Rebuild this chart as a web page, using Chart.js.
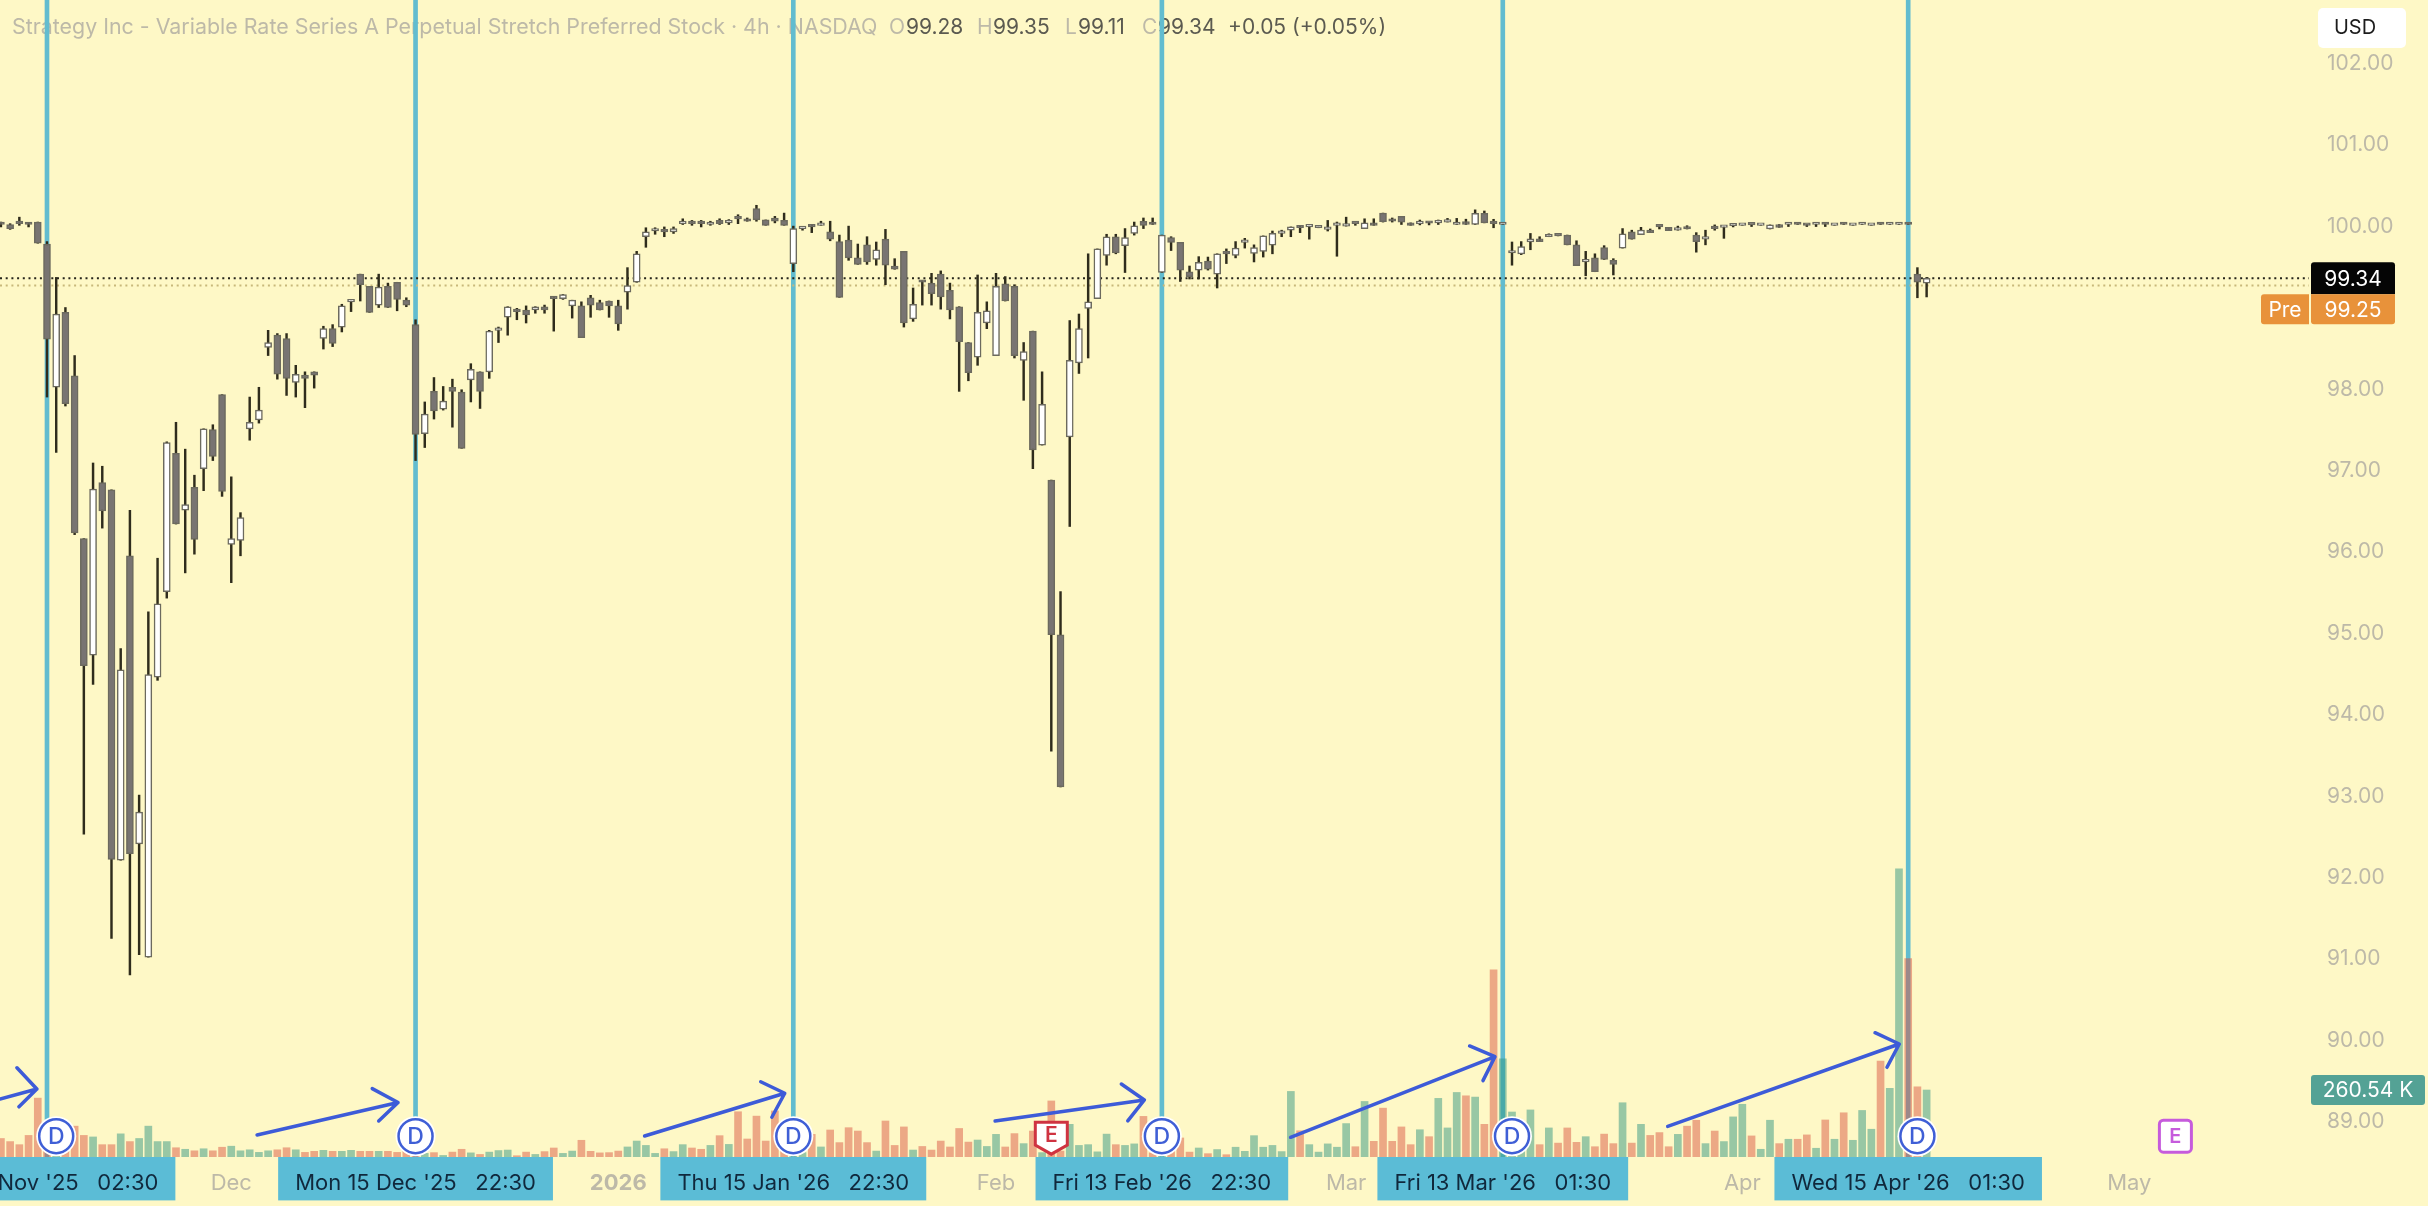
<!DOCTYPE html>
<html>
<head>
<meta charset="utf-8">
<title>Strategy Inc - 4h</title>
<script src="https://cdn.jsdelivr.net/npm/chart.js@4"></script>
<style>
  html, body { margin: 0; background: #fef8c6; overflow: hidden; }
  canvas { display: block; }
</style>
</head>
<body>
<canvas id="chart" width="2428" height="1206"></canvas>
<script>
// one entry per 4h bar, x position is the index in these arrays
const opens = [
  100.02,100.00,100.03,100.01,100.03,99.76,98.00,98.92,98.14,96.14,
  94.71,96.83,96.74,92.19,95.93,92.39,91.00,94.44,95.49,97.19,
  96.49,96.77,97.00,97.48,97.91,96.07,96.12,97.49,97.60,98.49,
  98.64,98.60,98.06,98.15,98.19,98.60,98.72,98.74,99.05,99.39,
  99.24,99.01,99.24,99.29,99.07,98.77,97.43,97.95,97.73,98.00,
  97.94,98.09,98.19,98.19,98.70,98.86,98.96,98.95,98.95,98.99,
  99.10,99.09,99.00,99.00,99.10,99.04,99.06,99.00,99.17,99.29,
  99.85,99.92,99.94,99.91,100.01,100.02,100.02,100.00,100.05,100.02,
  100.08,100.05,100.195,100.056,100.08,100.05,99.52,99.95,99.99,99.99,
  99.91,99.79,99.81,99.59,99.75,99.57,99.82,99.49,99.67,98.84,
  99.30,99.28,99.39,99.19,98.99,98.55,98.37,98.79,98.39,99.27,
  99.24,98.33,98.69,97.29,96.86,94.96,97.39,98.30,98.97,99.09,
  99.62,99.85,99.74,99.89,100.04,100.01,99.41,99.84,99.78,99.42,
  99.44,99.55,99.39,99.65,99.62,99.78,99.645,99.67,99.745,99.89,
  99.93,99.97,99.97,99.96,99.94,99.99,99.98,100.02,99.95,100.02,
  100.14,100.05,100.10,100.02,100.01,100.03,100.02,100.03,100.00,100.035,
  100.00,100.137,100.02,100.00,99.65,99.64,99.785,99.825,99.85,99.87,
  99.87,99.75,99.54,99.59,99.715,99.56,99.71,99.91,99.875,99.93,
  99.985,99.965,99.93,99.96,99.87,99.82,99.97,99.965,99.985,99.99,
  100.005,99.99,99.945,100.00,100.00,100.01,100.00,100.00,100.01,99.99,
  100.01,99.99,100.00,99.99,100.01,100.00,100.00,100.01,99.39,99.28
];
const highs = [
  100.03,100.01,100.09,100.02,100.03,99.79,99.35,98.98,98.39,96.14,
  97.07,97.03,96.74,94.79,96.49,92.99,95.24,95.90,97.33,97.57,
  97.24,96.92,97.49,97.54,97.91,96.90,96.46,97.88,98.00,98.70,
  98.66,98.66,98.27,98.19,98.19,98.75,98.77,99.02,99.07,99.39,
  99.24,99.39,99.28,99.29,99.10,98.83,97.82,98.12,98.01,98.10,
  97.97,98.29,98.19,98.70,98.74,98.99,98.97,99.00,98.99,99.01,
  99.11,99.14,99.07,99.05,99.13,99.07,99.06,99.07,99.47,99.67,
  99.96,99.96,99.97,99.97,100.07,100.05,100.05,100.04,100.07,100.06,
  100.12,100.08,100.236,100.056,100.10,100.14,99.98,99.97,99.99,100.04,
  100.04,99.87,99.98,99.76,99.85,99.785,99.94,99.58,99.67,99.22,
  99.31,99.40,99.43,99.28,98.99,98.55,99.38,99.05,99.40,99.36,
  99.26,98.55,98.69,98.19,96.86,95.49,98.82,98.90,99.64,99.70,
  99.88,99.88,99.95,100.03,100.08,100.08,99.87,99.85,99.78,99.49,
  99.605,99.60,99.64,99.70,99.79,99.83,99.75,99.86,99.92,99.93,
  99.97,99.99,99.99,99.98,100.05,100.03,100.09,100.02,100.07,100.07,
  100.14,100.08,100.10,100.02,100.055,100.03,100.055,100.075,100.075,100.065,
  100.18,100.166,100.064,100.01,99.785,99.79,99.89,99.85,99.885,99.87,
  99.87,99.80,99.67,99.64,99.74,99.58,99.95,99.93,99.965,99.945,
  99.985,99.965,99.98,99.985,99.90,99.93,99.995,99.98,100.00,100.00,
  100.005,100.00,99.995,100.00,100.01,100.01,100.00,100.01,100.01,100.00,
  100.01,100.00,100.01,100.00,100.01,100.01,100.01,100.01,99.47,99.35
];
const lows = [
  99.97,99.94,99.99,99.97,99.77,97.88,97.20,97.77,96.19,92.51,
  94.35,96.27,91.23,92.19,90.78,91.03,91.00,94.40,95.41,96.32,
  95.72,95.95,96.73,97.10,96.66,95.60,95.93,97.35,97.56,98.39,
  98.10,97.90,97.88,97.75,97.99,98.47,98.50,98.68,98.93,99.06,
  98.92,98.98,98.98,98.94,98.99,97.10,97.26,97.61,97.72,97.51,
  97.25,97.82,97.74,98.11,98.55,98.64,98.83,98.79,98.91,98.91,
  98.69,99.08,98.85,98.61,98.86,98.95,98.86,98.70,98.96,99.29,
  99.72,99.88,99.85,99.89,100.00,99.99,99.97,99.99,100.00,100.00,
  100.01,100.04,100.04,99.99,100.02,99.99,99.42,99.93,99.90,99.99,
  99.80,99.105,99.56,99.51,99.51,99.50,99.26,99.45,98.74,98.81,
  99.01,99.01,98.96,98.84,97.95,98.08,98.27,98.72,98.39,99.06,
  98.36,97.84,97.00,97.29,93.53,93.09,96.29,98.17,98.36,99.09,
  99.50,99.64,99.41,99.87,99.95,100.00,99.41,99.68,99.30,99.33,
  99.33,99.44,99.22,99.52,99.59,99.71,99.54,99.60,99.64,99.85,
  99.85,99.90,99.82,99.96,99.92,99.61,99.98,99.99,99.95,99.99,
  100.03,100.03,100.00,99.99,99.995,99.995,100.00,100.03,100.00,100.00,
  100.00,100.02,99.96,100.00,99.50,99.63,99.69,99.79,99.85,99.86,
  99.75,99.495,99.37,99.42,99.57,99.38,99.71,99.82,99.875,99.90,
  99.945,99.925,99.93,99.945,99.66,99.75,99.93,99.83,99.97,99.99,
  99.975,99.99,99.945,99.965,99.975,100.00,99.975,99.975,99.975,99.99,
  100.00,99.99,100.00,99.99,100.00,100.00,100.00,100.00,99.10,99.11
];
const closes = [
  100.00,99.95,100.01,100.00,99.77,98.59,98.90,97.80,96.21,94.58,
  96.75,96.48,92.20,94.53,92.27,92.78,94.47,95.34,97.32,96.32,
  96.56,96.13,97.49,97.15,96.72,96.14,96.40,97.57,97.72,98.55,
  98.16,98.11,98.16,98.11,98.15,98.72,98.54,99.00,99.06,99.26,
  98.92,99.23,98.98,99.08,99.01,97.42,97.67,97.71,97.83,97.95,
  97.25,98.22,97.95,98.69,98.72,98.99,98.93,98.89,98.99,98.95,
  99.09,99.14,99.07,98.61,99.01,98.95,99.00,98.78,99.25,99.64,
  99.91,99.93,99.91,99.95,100.02,100.01,100.01,100.02,100.01,100.04,
  100.07,100.04,100.056,99.99,100.04,99.99,99.95,99.97,99.97,100.01,
  99.82,99.105,99.59,99.51,99.54,99.69,99.50,99.45,98.79,99.02,
  99.29,99.15,99.11,98.95,98.56,98.18,98.92,98.94,99.24,99.06,
  98.39,98.44,97.23,97.79,94.96,93.09,98.33,98.72,99.05,99.70,
  99.85,99.65,99.84,99.985,99.99,100.00,99.87,99.78,99.44,99.36,
  99.535,99.45,99.64,99.64,99.71,99.81,99.715,99.86,99.89,99.90,
  99.97,99.96,99.98,99.97,99.96,100.00,100.01,100.01,100.02,99.99,
  100.035,100.04,100.03,99.99,100.03,100.015,100.03,100.05,100.03,100.00,
  100.137,100.02,100.01,100.01,99.66,99.73,99.825,99.79,99.86,99.86,
  99.75,99.495,99.55,99.42,99.57,99.51,99.884,99.82,99.93,99.90,
  99.97,99.925,99.96,99.945,99.79,99.85,99.95,99.98,100.00,100.00,
  99.995,100.00,99.995,99.965,100.01,100.00,99.99,100.01,100.00,100.00,
  100.00,100.00,100.01,100.00,100.00,100.01,100.01,100.00,99.29,99.34
];
// volume in thousands
const volumes = [
  72,60,48,84,229,120,90,72,120,84,
  78,48,48,90,60,72,120,60,60,36,
  30,24,32,24,38,42,24,28,18,24,
  28,36,28,18,22,26,22,22,26,22,
  22,22,22,18,22,22,14,17,6,19,
  30,16,10,19,25,27,5,19,10,21,
  35,14,23,65,22,16,17,23,39,62,
  45,14,32,21,48,35,30,45,83,49,
  176,70,159,62,179,62,16,17,88,39,
  105,56,114,101,56,23,140,45,117,27,
  41,27,62,39,111,58,66,41,88,39,
  91,52,101,17,218,23,127,45,48,20,
  89,48,45,51,158,16,16,35,74,19,
  35,13,29,9,38,22,83,38,45,21,
  255,102,48,19,51,38,130,40,216,61,
  190,61,117,48,106,79,228,113,251,238,
  233,127,728,382,175,30,183,48,113,54,
  113,57,79,40,89,52,211,54,127,84,
  95,40,88,120,143,52,101,60,156,205,
  82,30,143,52,69,69,86,34,144,69,
  172,65,181,108,373,267,1121,772,273,260.54
];

const priceTicks = [89, 90, 91, 92, 93, 94, 95, 96, 97, 98, 99, 100, 101, 102];

// bottom axis: month names and the highlighted dates at the blue lines
const xTickValues = [5, 25, 45, 67, 86, 108, 126, 146, 163, 189, 207, 231];
const xTickLabels = [
  "Fri 14 Nov '25   02:30", "Dec", "Mon 15 Dec '25   22:30", "2026",
  "Thu 15 Jan '26   22:30", "Feb", "Fri 13 Feb '26   22:30", "Mar",
  "Fri 13 Mar '26   01:30", "Apr", "Wed 15 Apr '26   01:30", "May"
];
const lineBars = [5, 45, 86, 126, 163, 207];
const dividendBars = [6, 45, 86, 126, 164, 208];
const earningsPast = 114;
const earningsNext = 236;

const lastPrice = 99.34;
const prePrice = 99.25;
const lastVolume = 260.54;

// hand drawn arrows: start, tip, barb, tip, barb as [bar, price]
const arrows = [
  [[-0.1, 89.257], [3.9, 89.38], [1.74, 89.64], [3.9, 89.38], [1.96, 89.16]],
  [[27.8, 88.815], [43.1, 89.214], [40.3, 89.384], [43.1, 89.214], [41.0, 88.987]],
  [[69.86, 88.802], [85.07, 89.327], [82.46, 89.469], [85.07, 89.327], [83.67, 89.032]],
  [[107.9, 88.987], [124.1, 89.245], [121.6, 89.441], [124.1, 89.245], [122.3, 88.987]],
  [[139.97, 88.786], [162.15, 89.776], [159.4, 89.908], [162.15, 89.776], [160.85, 89.482]],
  [[180.9, 88.92], [206.03, 89.932], [203.4, 90.071], [206.03, 89.932], [204.7, 89.646]]
];

const X_MIN = -0.1, X_MAX = 250.5;
const Y_MIN = 88.544, Y_MAX = 102.758;
const VOL_MAX = 4500;
const FONT = "Inter, 'Noto Sans', sans-serif";
const GREY = "#bdb9a8";
const TAG_BLUE = "#5bbcd6";
const LINE_BLUE = "#62bccf";
const ARROW_BLUE = "#3d5bd8";

const isUp = i => closes[i] >= opens[i];
const isTag = i => xTickLabels[i].length > 6;

function text(ctx, str, x, y, color, font, align) {
  ctx.fillStyle = color;
  ctx.font = font;
  ctx.textAlign = align || "left";
  ctx.textBaseline = "middle";
  ctx.fillText(str, x, y);
}

function box(ctx, x, y, w, h, color, r) {
  ctx.fillStyle = color;
  ctx.beginPath();
  ctx.roundRect(x, y, w, h, r);
  ctx.fill();
}

// header text, sits under the blue lines
const headerPlugin = {
  id: "header",
  beforeDatasetsDraw(chart) {
    const ctx = chart.ctx;
    const f = "21px " + FONT;
    ctx.save();
    text(ctx, "Strategy Inc - Variable Rate Series A Perpetual Stretch Preferred Stock · 4h · NASDAQ", 12, 28, GREY, "21.4px " + FONT);
    text(ctx, "O", 889, 28, GREY, f);
    text(ctx, "99.28", 906, 28, "#5b5a50", f);
    text(ctx, "H", 977, 28, GREY, f);
    text(ctx, "99.35", 993, 28, "#5b5a50", f);
    text(ctx, "L", 1065, 28, GREY, f);
    text(ctx, "99.11", 1078, 28, "#5b5a50", f);
    text(ctx, "C", 1142, 28, GREY, f);
    text(ctx, "99.34", 1158, 28, "#5b5a50", f);
    text(ctx, "+0.05 (+0.05%)", 1228, 28, "#5b5a50", f);
    ctx.restore();
  }
};

// badges and price tags on top of everything
const overlayPlugin = {
  id: "overlay",
  afterDatasetsDraw(chart) {
    const ctx = chart.ctx;
    const x = chart.scales.x, y = chart.scales.y, yv = chart.scales.yv;
    const badgeY = y.getPixelForValue(88.8);
    ctx.save();

    dividendBars.forEach(b => {
      const px = x.getPixelForValue(b);
      ctx.beginPath();
      ctx.arc(px, badgeY, 20, 0, Math.PI * 2);
      ctx.fillStyle = "#ffffff";
      ctx.fill();
      ctx.beginPath();
      ctx.arc(px, badgeY, 17, 0, Math.PI * 2);
      ctx.strokeStyle = "#3f5fd6";
      ctx.lineWidth = 2.5;
      ctx.stroke();
      text(ctx, "D", px, badgeY + 1, "#3f5fd6", "500 23px " + FONT, "center");
    });

    // earnings shield
    const ex = x.getPixelForValue(earningsPast);
    ctx.beginPath();
    ctx.moveTo(ex - 16, badgeY - 14);
    ctx.lineTo(ex + 16, badgeY - 14);
    ctx.lineTo(ex + 16, badgeY + 9);
    ctx.lineTo(ex, badgeY + 18);
    ctx.lineTo(ex - 16, badgeY + 9);
    ctx.closePath();
    ctx.fillStyle = "#ffffff";
    ctx.fill();
    ctx.strokeStyle = "#cf3341";
    ctx.lineWidth = 3;
    ctx.stroke();
    text(ctx, "E", ex, badgeY, "#cf3341", "600 21px " + FONT, "center");

    // next earnings
    const nx = x.getPixelForValue(earningsNext);
    box(ctx, nx - 16, badgeY - 16, 32, 32, "#ffffff", 4);
    ctx.beginPath();
    ctx.roundRect(nx - 16, badgeY - 16, 32, 32, 4);
    ctx.strokeStyle = "#c65bdc";
    ctx.lineWidth = 3;
    ctx.stroke();
    text(ctx, "E", nx, badgeY + 1, "#c65bdc", "600 20px " + FONT, "center");

    // right axis tags
    const ly = y.getPixelForValue(lastPrice);
    const tagBottom = ly + 16;
    box(ctx, 2311, ly - 16, 84, 32, "#050505", [3, 3, 0, 0]);
    text(ctx, lastPrice.toFixed(2), 2353, ly + 1, "#ffffff", "21px " + FONT, "center");
    box(ctx, 2311, tagBottom, 84, 30, "#e8923a", [0, 0, 3, 3]);
    text(ctx, prePrice.toFixed(2), 2353, tagBottom + 16, "#ffffff", "21px " + FONT, "center");
    box(ctx, 2261, tagBottom, 48, 30, "#e8923a", [3, 0, 0, 3]);
    text(ctx, "Pre", 2285, tagBottom + 16, "#ffffff", "21px " + FONT, "center");

    const vy = yv.getPixelForValue(lastVolume);
    box(ctx, 2311, vy - 15, 114, 30, "#54a295", 3);
    text(ctx, "260.54 K", 2368, vy + 1, "#ffffff", "21px " + FONT, "center");

    box(ctx, 2318, 8, 88, 40, "#ffffff", 5);
    text(ctx, "USD", 2355, 28, "#1c1c1c", "20px " + FONT, "center");
    ctx.restore();
  }
};

const bars = opens.map((o, i) => i);

const datasets = [
  {
    label: "Volume", yAxisID: "yv", order: 6, barThickness: 7,
    data: bars.map(i => ({ x: i, y: volumes[i] })),
    backgroundColor: bars.map(i => isUp(i) ? "rgba(50,150,130,0.5)" : "rgba(218,82,62,0.48)")
  },
  {
    label: "Marked dates", order: 8, barThickness: 4,
    data: lineBars.map(b => ({ x: b, y: [Y_MIN, Y_MAX] })),
    backgroundColor: LINE_BLUE
  },
  {
    label: "Wick", order: 4, barThickness: 1.8,
    data: bars.map(i => ({ x: i, y: [lows[i], highs[i]] })),
    backgroundColor: "#2f2c1c"
  },
  {
    label: "Body", order: 3, barThickness: 7, minBarLength: 2.5,
    borderWidth: 1.5, borderSkipped: false,
    data: bars.map(i => ({ x: i, y: [opens[i], closes[i]] })),
    backgroundColor: bars.map(i => isUp(i) ? "#ffffff" : "#787472"),
    borderColor: "#6c6a5e"
  },
  {
    type: "line", label: "Last", order: 7, pointRadius: 0, borderWidth: 2,
    borderColor: "#26241a", borderDash: [2, 3.7],
    data: [{ x: X_MIN, y: lastPrice }, { x: X_MAX, y: lastPrice }]
  },
  {
    type: "line", label: "Pre", order: 7, pointRadius: 0, borderWidth: 2,
    borderColor: "#c8b87a", borderDash: [2, 3.7],
    data: [{ x: X_MIN, y: prePrice }, { x: X_MAX, y: prePrice }]
  }
];

arrows.forEach((a, n) => {
  datasets.push({
    type: "line", label: "Arrow " + (n + 1), order: 1, pointRadius: 0,
    borderWidth: 3.5, borderColor: ARROW_BLUE, borderCapStyle: "round", borderJoinStyle: "round",
    data: a.map(p => ({ x: p[0], y: p[1] }))
  });
});

new Chart(document.getElementById("chart"), {
  type: "bar",
  data: { datasets },
  options: {
    responsive: false,
    animation: false,
    events: [],
    layout: { padding: 0 },
    datasets: { bar: { grouped: false } },
    plugins: { legend: { display: false }, tooltip: { enabled: false } },
    scales: {
      x: {
        type: "linear",
        offset: false,
        min: X_MIN,
        max: X_MAX,
        grid: { display: false, offset: false, drawTicks: false },
        border: { display: false },
        afterBuildTicks(axis) { axis.ticks = xTickValues.map(v => ({ value: v })); },
        afterFit(axis) { axis.height = 49; axis.paddingLeft = 0; axis.paddingRight = 0; },
        ticks: {
          autoSkip: false,
          maxRotation: 0,
          minRotation: 0,
          padding: 13,
          callback: (v, i) => xTickLabels[i],
          color: c => isTag(c.index) ? "#10283c" : GREY,
          font: c => ({ family: FONT, size: 22, weight: xTickLabels[c.index] === "2026" ? "700" : "400" }),
          showLabelBackdrop: c => isTag(c.index),
          backdropColor: TAG_BLUE,
          backdropPadding: { top: 13, bottom: 4, left: 17, right: 17 }
        }
      },
      y: {
        position: "right",
        min: Y_MIN,
        max: Y_MAX,
        grid: { display: false, drawTicks: false },
        border: { display: false },
        afterBuildTicks(axis) { axis.ticks = priceTicks.map(v => ({ value: v })); },
        afterFit(axis) { axis.width = 119; axis.paddingTop = 0; axis.paddingBottom = 0; },
        ticks: {
          padding: 18,
          labelOffset: 2,
          color: GREY,
          font: { family: FONT, size: 21 },
          callback: v => v.toFixed(2)
        }
      },
      yv: { display: false, min: 0, max: VOL_MAX }
    }
  },
  plugins: [headerPlugin, overlayPlugin]
});
</script>
</body>
</html>
